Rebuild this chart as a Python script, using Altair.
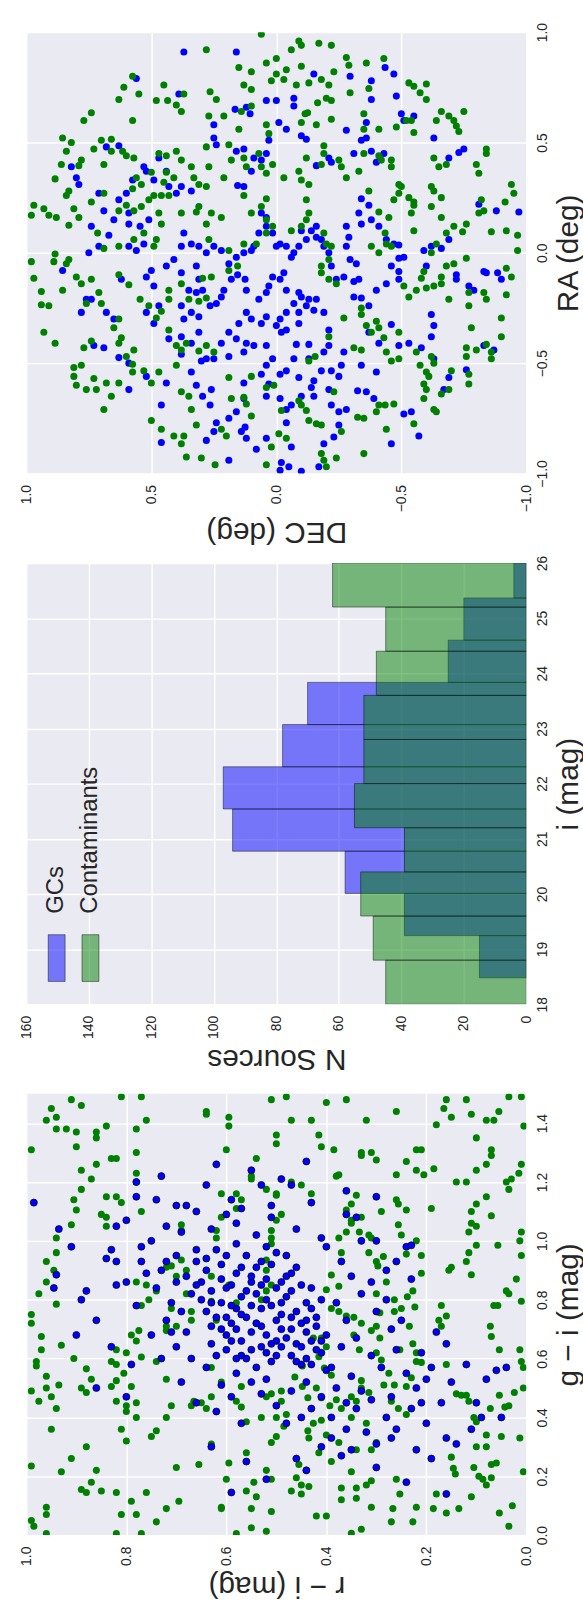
import altair as alt
import pandas as pd

FONT = "Liberation Sans"
BG = "#EAEAF2"
TXT = "#262626"
BLUE = "#0000ff"
GREEN = "#008000"

# ---------------- histogram of i magnitudes ----------------
gc_edges = [18.48, 19.245, 20.01, 20.775, 21.54, 22.305, 23.07, 23.835, 24.6, 25.365, 26.13]
gc_counts = [15, 39, 58, 94, 97, 78, 70, 25, 20, 4]
ct_edges = [18.0, 18.8, 19.6, 20.4, 21.2, 22.0, 22.8, 23.6, 24.4, 25.2, 26.0]
ct_counts = [45, 49, 53, 39, 55, 52, 52, 48, 45, 62]

# ---------------- sky positions (DEC, RA) ----------------
gc_radec = [
(0.37,0.91),(0.16,0.91),(-0.15,0.81),(-0.435,0.84),(-0.47,0.81),(-0.38,0.78),(-0.295,0.80),(0.39,0.72),(0.56,0.79),
(0.04,0.69),(0.0,0.69),(-0.07,0.70),(-0.07,0.665),(0.12,0.66),(0.165,0.65),(0.105,0.63),(-0.01,0.59),(-0.48,0.71),
(-0.50,0.63),(-0.55,0.62),(-0.51,0.60),(-0.38,0.695),(-0.28,0.555),(-0.36,0.59),(-0.63,0.52),(-0.73,0.455),(-0.75,0.47),
(-0.69,0.43),(-0.43,0.45),(-0.40,0.41),(-0.38,0.46),(-0.36,0.52),(-0.34,0.51),(-0.31,0.45),(-0.21,0.43),(-0.22,0.41),
(-0.16,0.395),(-0.12,0.515),(-0.10,0.53),(-0.04,0.56),(0.03,0.51),(0.04,0.45),(0.06,0.42),(0.09,0.43),(0.10,0.37),
(0.13,0.30),(0.155,0.305),(0.13,0.47),(0.16,0.46),(0.25,0.58),(0.25,0.52),(0.24,0.49),(0.38,0.30),(0.43,0.30),(0.40,0.27),
(0.34,0.28),(0.44,0.37),(0.47,0.43),(0.52,0.37),(0.63,0.485),(0.68,0.48),(0.80,0.34),(0.79,0.31),(0.82,0.39),(0.71,0.27),
(0.74,0.12),(0.67,0.08),(0.62,-0.12),(0.855,-0.08),(0.76,-0.21),(0.73,-0.42),(0.69,-0.43),(0.63,-0.475),(0.59,-0.62),
(0.46,-0.69),(0.46,-0.86),(0.38,-0.46),(0.30,-0.49),(0.26,-0.62),(0.24,-0.77),(0.28,-0.85),(0.14,-0.81),(0.125,-0.79),
(0.19,-0.94),(0.13,-0.66),(0.13,-0.59),(0.08,-0.89),(-0.015,-0.985),(-0.02,-0.95),(-0.05,-0.97),(-0.10,-0.99),(-0.17,-0.97),
(-0.19,-0.865),(-0.23,-0.835),(-0.25,-0.78),(-0.325,-0.625),(-0.36,-0.63),(-0.34,-0.51),(-0.27,-0.45),(-0.26,-0.51),
(-0.25,-0.56),(-0.22,-0.535),(-0.18,-0.535),(-0.15,-0.58),(-0.14,-0.61),(-0.09,-0.565),(-0.04,-0.535),(-0.015,-0.55),
(0.04,-0.51),(0.06,-0.55),(0.03,-0.595),(-0.04,-0.71),(-0.04,-0.77),(-0.06,-0.88),(-0.25,-0.72),(-0.39,-0.66),(-0.46,-0.865),
(-0.51,-0.73),(-0.57,-0.83),(-0.67,-0.62),(-0.69,-0.565),(-0.63,-0.48),(-0.62,-0.38),(-0.62,-0.28),(-0.63,-0.33),(-0.58,-0.43),
(-0.53,-0.41),(-0.49,-0.42),(-0.54,-0.72),(-0.76,-0.53),(-0.83,-0.42),(-0.87,-0.44),(-0.97,0.185),(-0.88,0.19),(-0.81,0.22),
(-0.83,-0.085),(-0.77,-0.15),(-0.79,-0.17),(-0.72,-0.12),(-0.72,-0.10),(-0.84,-0.09),(-0.885,-0.09),(-0.90,-0.12),(-0.60,-0.06),
(-0.59,0.01),(-0.62,0.03),(-0.69,0.06),(-0.66,0.02),(-0.49,-0.025),(-0.51,-0.02),(-0.49,0.035),(-0.47,0.04),(-0.44,0.06),
(-0.41,0.12),(-0.38,0.15),(-0.37,0.215),(-0.34,0.245),(-0.34,0.13),(-0.33,0.18),(-0.29,0.07),(-0.28,0.12),(-0.28,0.03),
(-0.295,-0.03),(-0.32,-0.05),(-0.33,-0.12),(-0.31,-0.13),(-0.34,-0.205),(-0.37,-0.24),(-0.40,-0.17),(-0.44,-0.14),(-0.46,-0.06),
(-0.49,-0.085),(-0.49,-0.12),(-0.46,-0.325),(-0.41,-0.41),(-0.40,-0.54),(-0.37,-0.36),(-0.31,-0.20),(-0.27,-0.11),(-0.24,-0.12),
(-0.22,-0.06),(-0.21,0.0),(-0.19,0.03),(-0.18,0.06),(-0.16,0.07),(-0.16,0.12),(-0.14,0.10),(-0.12,0.06),(-0.10,0.10),
(-0.09,0.03),(-0.07,0.0),(-0.06,-0.02),(-0.04,0.03),(-0.015,0.04),(0.0,0.03),(0.015,0.09),(0.04,0.12),(0.04,0.16),
(0.06,0.18),(0.07,0.09),(0.09,0.03),(0.10,0.01),(0.13,0.0),(0.16,-0.02),(0.19,-0.05),(0.22,0.01),(0.25,0.03),(0.28,0.0),
(0.31,0.03),(0.34,0.04),(0.37,0.09),(0.38,0.03),(0.41,-0.03),(0.38,-0.09),(0.32,-0.06),(0.31,-0.12),(0.295,-0.17),(0.32,-0.18),
(0.35,-0.17),(0.38,-0.24),(0.37,-0.30),(0.34,-0.27),(0.31,-0.29),(0.265,-0.24),(0.24,-0.23),(0.22,-0.20),(0.21,-0.17),
(0.18,-0.12),(0.155,-0.10),(0.125,-0.12),(0.12,-0.17),(0.07,-0.21),(0.04,-0.18),(0.03,-0.15),(0.015,-0.11),(-0.015,-0.12),
(-0.03,-0.09),(-0.04,-0.17),(-0.09,-0.18),(-0.07,-0.23),(-0.10,-0.20),(-0.13,-0.21),(-0.16,-0.21),(-0.15,-0.26),(-0.09,-0.27),
(-0.04,-0.27),(-0.015,-0.30),(0.0,-0.33),(-0.04,-0.35),(-0.09,-0.32),(-0.12,-0.24),(-0.19,-0.27),(-0.21,-0.35),(-0.21,-0.42),
(-0.13,-0.415),(-0.08,-0.415),(-0.02,-0.36),(0.04,-0.29),(0.06,-0.32),(0.10,-0.30),(0.12,-0.27),(0.15,-0.32),(0.19,-0.36),
(0.22,-0.41),(0.16,-0.39),(0.12,-0.41),(0.09,-0.42),(0.04,-0.42),(0.13,-0.45),(0.19,-0.47),(0.25,-0.48),(0.28,-0.48),
(0.31,-0.36),(0.34,-0.41),(0.38,-0.38),(0.43,-0.39),(0.49,-0.32),(0.52,-0.27),(0.47,-0.24),(0.49,-0.15),(0.52,-0.11),
(0.50,-0.08),(0.44,-0.06),(0.56,0.01),(0.59,0.03),(0.53,0.04),(0.51,0.15),(0.545,0.12),(0.59,0.18),(0.63,0.24),(0.60,0.27),
(0.575,0.33),(0.53,0.39),(0.49,0.33),(0.59,0.13),(0.65,0.15),(0.69,0.19),(0.71,0.03),(0.75,0.0),(0.74,-0.21),(0.78,-0.27),
(0.68,-0.27),(0.65,-0.30),(0.59,-0.50),(0.52,-0.56),(0.44,-0.59),(0.32,-0.60),(0.295,-0.65),(0.265,-0.69),(0.19,-0.75),
(0.16,-0.72),(0.12,-0.84),(0.04,-0.84),(0.25,-0.81),(0.34,-0.54),(0.04,-0.65),(-0.015,-0.66),(-0.06,-0.69),(-0.10,-0.65),
(-0.15,-0.65),(-0.21,-0.62),(-0.22,-0.69),(-0.28,-0.71),(-0.19,-0.45),(-0.13,-0.48),(-0.07,-0.48),(0.015,-0.48)]

ct_radec = [
(0.06,0.99),(0.28,0.92),(0.15,0.84),(0.04,0.86),(0.0,0.88),(-0.09,0.96),(-0.06,0.92),(-0.10,0.94),(-0.17,0.95),(-0.22,0.94),
(0.10,0.82),(-0.28,0.885),(-0.29,0.85),(-0.36,0.86),(-0.43,0.88),(-0.10,0.845),(-0.04,0.83),(0.0,0.81),(0.02,0.78),(-0.03,0.785),
(-0.08,0.76),(-0.13,0.77),(-0.18,0.785),(-0.21,0.76),(-0.23,0.82),(-0.37,0.745),(-0.295,0.725),(-0.53,0.77),(-0.55,0.755),
(-0.60,0.765),(-0.575,0.725),(-0.60,0.695),(0.13,0.76),(0.10,0.74),(0.265,0.73),(0.24,0.695),(0.37,0.72),(0.45,0.76),(0.48,0.69),
(0.435,0.69),(0.40,0.67),(0.575,0.80),(0.61,0.75),(0.55,0.72),(0.63,0.695),(0.74,0.635),(0.77,0.60),(-0.165,0.68),(-0.20,0.70),
(-0.22,0.69),(-0.52,0.60),(0.575,0.60),(0.38,0.64),(0.27,0.62),(0.21,0.62),(0.14,0.64),(0.10,0.665),(0.03,0.54),(0.04,0.58),
(-0.115,0.63),(-0.125,0.635),(-0.10,0.59),(-0.16,0.58),(-0.22,0.605),(-0.35,0.63),(-0.35,0.56),(-0.41,0.56),(-0.48,0.57),
(-0.54,0.60),(-0.66,0.64),(-0.69,0.62),(-0.71,0.60),(-0.75,0.64),(-0.72,0.575),(-0.73,0.55),(-0.64,0.60),(-0.55,0.545),
(0.855,0.52),(0.82,0.50),(0.84,0.46),(0.78,0.42),(0.79,0.395),(0.73,0.47),(0.70,0.51),(0.66,0.515),(0.69,0.40),(0.66,0.46),
(0.615,0.46),(0.60,0.44),(0.57,0.43),(0.56,0.34),(0.54,0.31),(0.50,0.365),(0.49,0.26),(0.47,0.45),(0.44,0.44),(0.40,0.46),
(0.38,0.42),(0.34,0.39),(0.41,0.34),(0.44,0.365),(0.45,0.32),(0.46,0.26),(0.43,0.26),(0.51,0.24),(0.54,0.21),(0.57,0.19),
(0.60,0.215),(0.63,0.19),(0.575,0.29),(0.74,0.23),(0.69,0.27),(0.79,0.16),(0.83,0.125),(0.88,0.16),(0.885,0.335),(0.84,0.26),
(0.81,0.20),(0.91,0.17),(0.93,0.20),(0.97,0.215),(0.98,0.17),(0.83,0.28),(0.86,0.40),(0.28,0.48),(0.33,0.34),(0.31,0.31),
(0.27,0.39),(0.28,0.30),(0.21,0.34),(0.18,0.42),(0.13,0.43),(0.12,0.39),(0.07,0.45),(0.06,0.39),(0.19,0.49),(0.15,0.56),
(0.04,0.36),(0.015,0.40),(-0.03,0.34),(-0.09,0.37),(-0.12,0.43),(-0.10,0.33),(-0.13,0.31),(-0.18,0.40),(-0.19,0.45),(-0.19,0.485),
(-0.25,0.42),(-0.26,0.39),(-0.28,0.34),(-0.41,0.44),(-0.42,0.42),(-0.46,0.42),(-0.46,0.39),(-0.49,0.31),(-0.50,0.30),(-0.49,0.27),
(-0.53,0.25),(-0.55,0.23),(-0.35,0.45),(-0.33,0.37),(-0.37,0.28),(-0.63,0.43),(-0.68,0.40),(-0.65,0.39),(-0.80,0.40),(-0.81,0.36),
(-0.84,0.47),(-0.84,0.45),(-0.62,0.30),(-0.63,0.28),(-0.66,0.25),(-0.62,0.21),(-0.47,0.24),(-0.54,0.18),(-0.55,0.215),(-0.45,0.16),
(-0.41,0.185),(-0.38,0.03),(-0.41,0.0),(-0.435,0.09),(-0.44,0.04),(-0.46,0.03),(-0.55,0.10),(-0.66,0.16),(-0.71,0.12),(-0.745,0.095),
(-0.81,0.18),(-0.83,0.19),(-0.82,0.24),(-0.915,0.23),(-0.95,0.27),(-0.94,0.31),(-0.92,0.10),(-0.965,0.08),(-0.965,0.01),(-0.86,0.095),
(-0.76,0.13),(-0.68,0.09),(-0.64,0.04),(-0.62,0.0),(-0.68,-0.06),(-0.71,-0.05),(-0.76,-0.025),(0.38,0.18),(0.32,0.185),(0.31,0.21),
(0.26,0.18),(0.22,0.16),(0.13,0.26),(0.10,0.18),(0.06,0.21),(0.04,0.15),(0.04,0.245),(0.015,0.12),(0.04,0.09),(-0.06,0.10),
(-0.10,0.12),(-0.12,0.15),(-0.13,0.18),(-0.12,0.24),(-0.19,0.09),(-0.20,0.04),(-0.22,0.03),(-0.21,-0.03),(-0.18,-0.06),(-0.18,-0.09),
(-0.21,-0.12),(-0.24,-0.14),(0.28,0.13),(0.27,0.06),(0.19,0.01),(0.13,0.04),(0.08,0.04),(0.155,-0.06),(0.19,-0.08),(0.26,-0.11),
(0.295,-0.115),(0.28,-0.205),(0.31,-0.22),(0.35,-0.21),(0.38,-0.14),(0.48,0.06),(0.49,0.03),(0.46,0.13),(0.47,0.18),(0.53,0.09),
(0.57,0.06),(0.63,0.03),(0.69,0.02),(0.715,0.09),(0.83,-0.03),(0.84,-0.05),(0.80,-0.11),(0.885,-0.005),(0.98,-0.04),(0.89,-0.04),
(0.94,-0.235),(0.91,-0.24),(0.94,-0.175),(0.97,-0.115),(0.855,-0.17),(0.78,-0.14),(0.74,-0.12),(0.71,-0.18),(0.70,-0.23),(0.76,-0.23),
(0.63,-0.10),(0.59,-0.145),(0.545,-0.21),(0.51,-0.24),(0.43,-0.17),(0.43,-0.21),(0.48,-0.295),(0.46,-0.265),(0.43,-0.35),(0.40,-0.42),
(0.38,-0.44),(0.40,-0.51),(0.63,-0.30),(0.65,-0.34),(0.62,-0.385),(0.63,-0.41),(0.60,-0.47),(0.57,-0.44),(0.575,-0.505),(0.53,-0.535),
(0.47,-0.54),(0.50,-0.59),(0.575,-0.54),(0.63,-0.59),(0.68,-0.59),(0.73,-0.57),(0.72,-0.62),(0.76,-0.62),(0.81,-0.52),(0.81,-0.56),
(0.80,-0.60),(0.78,-0.51),(0.66,-0.65),(0.69,-0.71),(0.885,-0.41),(0.93,-0.36),(0.77,-0.43),(0.74,-0.40),(0.36,-0.41),(0.31,-0.445),
(0.28,-0.42),(0.25,-0.45),(0.38,-0.63),(0.35,-0.65),(0.34,-0.71),(0.32,-0.78),(0.37,-0.83),(0.38,-0.865),(0.46,-0.80),(0.50,-0.76),
(0.41,-0.83),(0.36,-0.925),(0.30,-0.93),(0.245,-0.96),(0.22,-0.80),(0.20,-0.83),(0.19,-0.565),(0.18,-0.66),(0.12,-0.685),(0.10,-0.74),
(0.10,-0.56),(0.13,-0.655),(0.04,-0.61),(0.01,-0.60),(0.04,-0.96),(0.02,-0.88),(-0.01,-0.82),(-0.04,-0.84),(-0.02,-0.715),(-0.09,-0.67),
(-0.10,-0.69),(-0.12,-0.715),(-0.13,-0.76),(-0.16,-0.775),(-0.18,-0.78),(-0.18,-0.91),(-0.19,-0.94),(-0.24,-0.93),(-0.20,-0.97),
(-0.26,-0.81),(-0.325,-0.745),(-0.35,-0.75),(-0.35,-0.91),(-0.40,-0.72),(-0.41,-0.69),(-0.435,-0.69),(-0.44,-0.80),(-0.47,-0.685),
(-0.55,-0.775),(-0.13,-0.49),(-0.155,-0.47),(-0.21,-0.38),(-0.23,-0.63),(-0.27,-0.295),(-0.31,-0.43),(-0.34,-0.44),(-0.36,-0.33),
(-0.38,-0.36),(-0.40,-0.31),(-0.41,-0.34),(-0.43,-0.385),(-0.44,-0.45),(-0.49,-0.48),(-0.46,-0.49),(-0.49,-0.36),(-0.34,-0.28),
(-0.34,-0.25),(-0.56,-0.45),(-0.575,-0.51),(-0.60,-0.54),(-0.59,-0.595),(-0.59,-0.66),(-0.61,-0.56),(-0.60,-0.62),(-0.63,-0.71),
(-0.64,-0.72),(-0.66,-0.64),(-0.69,-0.62),(-0.70,-0.535),(-0.76,-0.47),(-0.77,-0.55),(-0.77,-0.595),(-0.78,-0.34),(-0.76,-0.43),
(-0.80,-0.44),(-0.84,-0.415),(-0.86,-0.48),(-0.86,-0.45),(-0.90,-0.38),(-0.90,-0.295),(-0.84,-0.21),(-0.77,-0.18),(-0.77,-0.24),
(-0.83,-0.18),(-0.92,-0.19),(-0.94,-0.11),(-0.92,-0.07),(-0.51,-0.15),(-0.53,-0.20),(-0.56,-0.17),(-0.58,-0.115),(-0.59,-0.085),
(-0.63,-0.15),(-0.66,-0.14),(-0.60,-0.16),(-0.69,-0.21),(-0.66,-0.11),(-0.62,-0.47),(-0.63,-0.50)]

# ---------------- colours (r-i, g-i) ----------------
gc_colors = [
(0.52,0.80),(0.47,0.74),(0.55,0.86),(0.61,0.92),(0.44,0.69),(0.58,0.77),(0.50,0.66),(0.63,0.83),(0.41,0.62),(0.56,0.95),
(0.48,0.88),(0.53,0.71),(0.45,0.58),(0.60,0.68),(0.66,0.97),(0.49,0.79),(0.57,0.61),(0.43,0.77),(0.62,0.74),(0.51,0.92),
(0.46,0.65),(0.54,0.57),(0.59,0.85),(0.64,0.90),(0.42,0.71),(0.50,0.73),(0.55,0.69),(0.47,0.83),(0.61,0.79),(0.53,0.64),
(0.40,0.56),(0.65,0.86),(0.58,0.99),(0.44,0.60),(0.52,0.87),(0.49,0.70),(0.57,0.81),(0.46,0.76),(0.60,0.63),(0.54,0.91),
(0.43,0.66),(0.63,0.71),(0.51,0.59),(0.48,0.95),(0.56,0.74),(0.67,0.82),(0.45,0.85),(0.59,0.72),(0.52,0.68),(0.41,0.80),
(0.62,0.97),(0.55,0.63),(0.50,0.84),(0.47,0.61),(0.58,0.89),(0.44,0.73),(0.53,0.77),(0.64,0.76),(0.49,0.64),(0.60,0.84),
(0.46,0.91),(0.57,0.66),(0.42,0.63),(0.66,0.93),(0.51,0.78),(0.54,0.82),(0.48,0.67),(0.61,0.87),(0.45,0.72),(0.56,0.60),
(0.63,0.65),(0.50,0.96),(0.43,0.84),(0.59,0.78),(0.52,0.62),(0.47,0.70),(0.55,0.88),(0.65,0.80),(0.40,0.68),(0.58,0.70),
(0.62,0.61),(0.49,0.86),(0.53,0.93),(0.44,0.79),(0.57,0.75),(0.51,0.65),(0.46,0.59),(0.60,0.95),(0.68,0.88),(0.54,0.72),
(0.42,0.74),(0.48,0.81),(0.63,0.79),(0.56,0.83),(0.50,0.61),(0.45,0.64),(0.59,0.66),(0.52,0.98),(0.61,0.70),(0.47,0.89),
(0.55,0.78),(0.64,0.94),(0.43,0.58),(0.58,0.60),(0.49,0.75),(0.66,0.85),(0.53,0.85),(0.41,0.66),(0.57,0.91),(0.60,0.74),
(0.72,1.05),(0.68,1.12),(0.75,1.00),(0.70,0.95),(0.78,1.15),(0.74,1.14),(0.70,1.12),(0.66,1.10),(0.59,1.14),(0.57,1.11),
(0.60,1.09),(0.51,1.12),(0.51,1.08),(0.73,1.22),(0.78,1.20),(0.49,1.21),(0.47,1.19),(0.64,1.19),(0.43,1.13),(0.53,1.19),
(0.80,1.07),(0.82,1.05),(0.77,0.98),(0.72,0.93),(0.69,1.03),(0.63,1.04),(0.58,1.06),(0.54,1.02),(0.46,1.04),(0.41,1.01),
(0.36,1.09),(0.34,1.08),(0.40,0.98),(0.33,1.00),(0.30,1.00),(0.24,0.98),(0.23,0.985),(0.37,0.93),(0.35,0.88),(0.31,0.86),
(0.33,0.82),(0.28,0.90),(0.38,0.79),(0.36,0.73),(0.30,0.76),(0.27,0.70),(0.34,0.67),(0.31,0.61),(0.37,0.64),(0.39,0.57),
(0.35,0.54),(0.29,0.57),(0.26,0.63),(0.24,0.55),(0.33,0.49),(0.38,0.50),(0.36,0.45),(0.41,0.47),(0.44,0.52),(0.47,0.49),
(0.43,0.43),(0.39,0.40),(0.34,0.43),(0.31,0.46),(0.28,0.40),(0.27,0.47),(0.22,0.50),(0.20,0.53),(0.19,0.57),(0.23,0.43),
(0.21,0.45),(0.26,0.36),(0.32,0.35),(0.30,0.31),(0.36,0.36),(0.39,0.33),(0.35,0.29),(0.45,0.40),(0.50,0.44),(0.48,0.38),
(0.53,0.48),(0.55,0.52),(0.52,0.53),(0.58,0.55),(0.61,0.51),(0.64,0.57),(0.67,0.60),(0.70,0.64),(0.68,0.69),(0.72,0.73),
(0.71,0.79),(0.74,0.84),(0.76,0.89),(0.69,0.76),(0.75,0.68),(0.78,0.78),(0.80,0.86),(0.82,0.93),(0.83,0.97),(0.77,0.93),
(0.73,0.90),(0.70,0.86),(0.71,0.69),(0.985,1.13),(0.935,1.04),(0.91,0.98),(0.94,0.885),(0.945,0.84),(0.88,0.83),(0.89,0.80),
(0.84,0.94),(0.82,0.85),(0.86,0.73),(0.90,0.68),(0.83,0.64),(0.79,0.58),(0.86,0.50),(0.80,0.47),(0.73,0.60),(0.69,0.52),
(0.66,0.45),(0.62,0.42),(0.59,0.47),(0.57,0.38),(0.63,0.30),(0.56,0.25),(0.59,0.145),(0.52,0.19),(0.46,0.26),(0.44,0.22),
(0.41,0.30),(0.37,0.27),(0.30,0.23),(0.27,0.33),(0.22,0.29),(0.20,0.38),(0.17,0.45),(0.15,0.52),(0.12,0.58),(0.10,0.45),
(0.09,0.40),(0.11,0.36),(0.16,0.33),(0.19,0.26),(0.14,0.31),(0.21,0.62),(0.25,0.73),(0.28,0.80),(0.16,0.65),(0.18,0.69),
(0.23,0.87),(0.26,0.93),(0.44,1.27),(0.55,1.24),(0.62,1.26),(0.36,1.17),(0.30,1.15),(0.16,0.14),(0.24,0.18),(0.08,0.53),
(0.06,0.56),(0.04,0.57),(0.05,0.40)]

ct_colors = [
(0.91,1.48),(0.89,1.46),(0.95,1.45),(0.96,1.41),(0.94,1.42),(0.99,1.31),(0.94,1.38),(0.92,1.38),(0.90,1.37),(0.90,1.32),
(0.89,1.24),(0.86,1.37),(0.86,1.35),(0.84,1.39),(0.86,1.26),(0.87,1.21),(0.83,1.28),(0.82,1.28),(0.81,1.49),(0.77,1.49),
(0.78,1.38),(0.76,1.41),(0.78,1.30),(0.78,1.23),(0.78,1.20),(0.77,1.10),(0.82,1.15),(0.81,1.13),(0.84,1.15),(0.84,1.08),
(0.84,1.05),(0.85,1.09),(0.89,1.175),(0.905,1.14),(0.90,1.105),(0.91,1.055),(0.94,1.01),(0.94,0.96),(0.96,0.93),(0.945,0.90),
(0.96,0.86),(0.94,0.785),(0.975,0.82),(0.99,0.75),(0.99,0.72),(0.99,0.49),(0.99,0.235),(0.97,0.675),(0.97,0.63),(0.93,0.645),
(0.905,0.60),(0.89,0.50),(0.88,0.485),(0.88,0.565),(0.87,0.53),(0.98,0.59),(0.98,0.575),(0.96,0.54),(0.96,0.50),(0.935,0.51),
(0.95,0.47),(0.94,0.43),(0.975,0.455),(0.95,0.36),(0.93,0.215),(0.89,0.155),(0.88,0.145),(0.85,0.15),(0.86,0.22),(0.87,0.18),
(0.88,0.30),(0.96,0.095),(0.96,0.07),(0.99,0.05),(0.985,0.03),(0.96,0.005),(0.91,0.26),(0.82,0.145),(0.81,0.07),(0.82,0.005),
(0.79,0.115),(0.78,0.07),(0.77,0.005),(0.76,0.145),(0.74,0.045),(0.72,0.09),(0.75,0.335),(0.74,0.355),(0.72,0.40),(0.72,0.53),
(0.70,0.23),(0.695,0.115),(0.71,0.44),(0.78,0.45),(0.78,0.40),(0.80,0.42),(0.80,0.44),(0.80,0.32),(0.81,0.36),(0.82,0.455),
(0.83,0.505),(0.82,0.525),(0.79,0.505),(0.805,0.55),(0.82,0.58),(0.82,0.63),(0.83,0.59),(0.80,0.62),(0.79,0.68),(0.78,0.66),
(0.775,0.695),(0.77,0.605),(0.78,0.86),(0.76,0.85),(0.77,0.78),(0.755,0.80),(0.74,0.83),(0.74,0.59),(0.72,0.71),(0.72,0.695),
(0.71,0.77),(0.70,0.71),(0.72,0.91),(0.71,0.915),(0.69,0.935),(0.69,1.035),(0.69,1.055),(0.70,0.88),(0.68,0.90),(0.68,0.82),
(0.67,0.76),(0.67,0.73),(0.67,0.44),(0.665,0.455),(0.655,0.24),(0.65,0.45),(0.64,0.43),(0.63,0.31),(0.63,0.47),(0.63,0.57),
(0.61,0.52),(0.62,0.73),(0.63,0.795),(0.63,0.88),(0.62,1.035),(0.62,1.01),(0.61,1.08),(0.61,1.16),(0.64,1.43),(0.64,1.44),
(0.595,1.42),(0.60,1.31),(0.595,1.39),(0.58,1.16),(0.58,1.11),(0.57,1.14),(0.595,0.85),(0.58,0.79),(0.58,0.455),(0.57,0.435),
(0.57,0.505),(0.56,0.385),(0.56,0.15),(0.595,0.245),(0.60,0.19),(0.61,0.095),(0.61,0.09),(0.58,0.005),(0.56,0.28),(0.545,0.18),
(0.54,0.13),(0.55,0.09),(0.55,0.025),(0.52,0.013),(0.51,0.08),(0.51,0.19),(0.52,0.22),(0.51,0.315),(0.50,0.335),(0.485,0.37),
(0.48,0.41),(0.50,0.40),(0.49,0.455),(0.49,0.49),(0.51,0.48),(0.52,0.47),(0.53,0.40),(0.54,0.72),(0.53,0.80),(0.52,0.83),
(0.51,0.85),(0.52,0.90),(0.52,0.935),(0.51,1.01),(0.51,0.99),(0.50,1.07),(0.49,1.09),(0.50,1.16),(0.50,1.155),(0.52,1.175),
(0.51,1.035),(0.50,1.36),(0.50,1.33),(0.54,1.28),(0.55,1.22),(0.55,1.21),(0.51,1.48),(0.48,1.49),(0.47,1.41),(0.43,1.41),
(0.47,1.20),(0.45,1.19),(0.43,1.16),(0.415,1.36),(0.41,1.32),(0.40,1.47),(0.385,1.31),(0.375,1.225),(0.38,1.22),(0.36,1.48),
(0.36,1.105),(0.36,1.03),(0.34,1.155),(0.33,1.30),(0.33,1.29),(0.32,1.41),(0.31,1.30),(0.30,1.275),(0.26,1.225),(0.29,1.10),
(0.26,1.44),(0.26,1.14),(0.24,1.27),(0.24,1.105),(0.22,1.24),(0.22,1.31),(0.21,1.31),(0.205,1.225),(0.18,1.395),(0.19,1.11),
(0.185,1.245),(0.165,1.45),(0.16,1.48),(0.12,1.48),(0.11,1.43),(0.12,1.20),(0.14,1.20),(0.15,1.42),(0.10,1.35),(0.08,1.41),
(0.065,1.41),(0.055,1.44),(0.035,1.49),(0.01,1.49),(0.005,1.39),(0.01,1.26),(0.015,1.23),(0.03,1.21),(0.04,1.20),(0.07,1.31),
(0.07,1.29),(0.10,1.24),(0.08,1.26),(0.035,1.175),(0.10,1.125),(0.11,1.10),(0.11,1.06),(0.115,1.03),(0.10,0.985),(0.115,0.96),
(0.12,0.93),(0.11,0.885),(0.15,0.91),(0.155,0.90),(0.17,0.78),(0.16,0.745),(0.175,0.73),(0.17,0.71),(0.16,0.58),(0.14,0.48),
(0.13,0.475),(0.12,0.475),(0.115,0.455),(0.105,0.40),(0.10,0.30),(0.105,0.23),(0.095,0.20),(0.087,0.19),(0.08,0.34),(0.07,0.24),
(0.06,0.245),(0.05,0.335),(0.043,0.435),(0.035,0.44),(0.024,0.485),(0.006,0.50),(0.006,0.57),(0.01,0.59),(0.013,0.63),(0.054,0.63),
(0.07,0.675),(0.072,0.71),(0.065,0.78),(0.057,0.78),(0.035,0.82),(0.04,0.83),(0.01,0.795),(0.01,0.95),(0.01,1.03),(0.013,1.0),
(0.02,0.87),(0.057,0.985),(0.07,1.085),(0.08,1.15),(0.10,1.05),(0.054,0.475),(0.072,0.43),(0.10,0.385),(0.08,0.30),(0.035,0.03),
(0.028,0.10),(0.054,0.075),(0.013,0.33),(0.006,0.215),(0.11,0.13),(0.08,0.17),(0.07,0.195),(0.15,0.265),(0.146,0.227),(0.142,0.208),
(0.135,0.09),(0.16,0.075),(0.18,0.14),(0.186,0.09),(0.22,0.095),(0.227,0.045),(0.253,0.14),(0.26,0.19),(0.267,0.09),(0.27,0.045),
(0.31,0.095),(0.33,0.02),(0.35,0.006),(0.37,0.16),(0.37,0.12),(0.34,0.125),(0.34,0.16),(0.32,0.17),(0.31,0.185),(0.40,0.065),
(0.42,0.065),(0.435,0.165),(0.45,0.14),(0.45,0.17),(0.46,0.195),(0.47,0.15),(0.455,0.24),(0.44,0.22),(0.435,0.33),(0.437,0.355),
(0.415,0.28),(0.40,0.34),(0.39,0.25),(0.375,0.315),(0.35,0.215),(0.34,0.29),(0.31,0.29),(0.30,0.315),(0.32,0.38),(0.35,0.40),
(0.37,0.43),(0.38,0.46),(0.35,0.47),(0.34,0.455),(0.33,0.50),(0.33,0.525),(0.315,0.485),(0.30,0.62),(0.29,0.595),(0.285,0.51),
(0.275,0.55),(0.264,0.51),(0.256,0.43),(0.27,0.455),(0.24,0.41),(0.24,0.505),(0.23,0.535),(0.22,0.59),(0.21,0.587),(0.22,0.62),
(0.227,0.65),(0.234,0.71),(0.223,0.775),(0.238,0.81),(0.227,0.83),(0.21,0.89),(0.21,0.95),(0.22,1.0),(0.24,0.955),(0.25,1.02),
(0.256,1.055),(0.256,1.125),(0.286,0.947),(0.297,0.915),(0.30,0.93),(0.31,1.01),(0.315,0.96),(0.315,1.02),(0.334,1.03),(0.35,1.07),
(0.35,1.06),(0.35,1.125),(0.33,1.08),(0.375,1.01),(0.37,0.96),(0.375,0.846),(0.39,0.884),(0.40,0.834),(0.39,0.77),(0.375,0.76),
(0.36,0.745),(0.345,0.74),(0.33,0.72),(0.31,0.695),(0.30,0.71),(0.30,0.82),(0.28,0.86),(0.293,0.756),(0.264,0.80),(0.264,0.76),
(0.25,0.77),(0.253,0.63),(0.293,0.67),(0.334,0.63),(0.345,0.68),(0.40,0.64),(0.41,0.67),(0.426,0.67),(0.415,0.606),(0.404,0.568),
(0.39,0.543),(0.448,0.575),(0.463,0.537),(0.448,0.505),(0.437,0.467),(0.42,0.50),(0.41,0.467),(0.393,0.44),(0.41,0.39),(0.426,0.38)]

# ---------------- data frames ----------------
hist_gc = pd.DataFrame({"lo": gc_edges[:-1], "hi": gc_edges[1:], "n": gc_counts, "zero": 0})
hist_ct = pd.DataFrame({"lo": ct_edges[:-1], "hi": ct_edges[1:], "n": ct_counts, "zero": 0})
sky_gc = pd.DataFrame(gc_radec, columns=["dec", "ra"])
sky_ct = pd.DataFrame(ct_radec, columns=["dec", "ra"])
col_gc = pd.DataFrame(gc_colors, columns=["ri", "gi"])
col_ct = pd.DataFrame(ct_colors, columns=["ri", "gi"])

W, H = 503, 444
PT = 50


def bottom_axis(title, values, fmt):
    return alt.Axis(
        orient="bottom", title=title, values=values, format=fmt,
        labelAngle=270, labelAlign="right", labelBaseline="middle", labelPadding=11,
        labelFont=FONT, labelFontSize=14, labelColor=TXT, labelFlush=False, labelOverlap=False,
        titleAngle=180, titleBaseline="bottom", titleAlign="center", titlePadding=5,
        titleFont=FONT, titleFontSize=30, titleFontWeight="normal", titleColor=TXT,
        grid=True, gridColor="white", gridWidth=1.4, domain=False, ticks=False, tickSize=0)


def right_axis(title, values, fmt):
    return alt.Axis(
        orient="right", title=title, values=values, format=fmt,
        labelAngle=270, labelAlign="center", labelBaseline="top", labelPadding=9,
        labelFont=FONT, labelFontSize=14, labelColor=TXT, labelFlush=False, labelOverlap=False,
        titleAngle=270, titleBaseline="top", titleAlign="center", titlePadding=4,
        titleFont=FONT, titleFontSize=30, titleFontWeight="normal", titleColor=TXT,
        grid=True, gridColor="white", gridWidth=1.4, domain=False, ticks=False, tickSize=0)


# ---------------- top panel: sky positions ----------------
sky_x = alt.X("dec:Q", scale=alt.Scale(domain=[-1, 1], reverse=True, nice=False, zero=False),
              axis=bottom_axis("DEC (deg)", [-1, -0.5, 0, 0.5, 1], ".1f"))
sky_y = alt.Y("ra:Q", scale=alt.Scale(domain=[-1, 1], nice=False, zero=False),
              axis=right_axis("RA (deg)", [-1, -0.5, 0, 0.5, 1], ".1f"))

sky = alt.layer(
    alt.Chart(sky_gc).mark_circle(size=PT, color=BLUE, opacity=1, clip=True).encode(x=sky_x, y=sky_y),
    alt.Chart(sky_ct).mark_circle(size=PT, color=GREEN, opacity=1, clip=True).encode(x=sky_x, y=sky_y),
).properties(width=W, height=H)

# ---------------- middle panel: histogram ----------------
h_x = alt.X("n:Q", scale=alt.Scale(domain=[0, 160], reverse=True, nice=False, zero=False),
            axis=bottom_axis("N Sources", list(range(0, 161, 20)), "d"))
h_y = alt.Y("lo:Q", scale=alt.Scale(domain=[18, 26], nice=False, zero=False),
            axis=right_axis("i (mag)", list(range(18, 27)), "d"))

bars_gc = alt.Chart(hist_gc).mark_bar(
    color=BLUE, fillOpacity=0.5, stroke="black", strokeOpacity=0.45, strokeWidth=1, clip=True
).encode(x=h_x, x2="zero:Q", y=h_y, y2="hi:Q")
bars_ct = alt.Chart(hist_ct).mark_bar(
    color=GREEN, fillOpacity=0.5, stroke="black", strokeOpacity=0.45, strokeWidth=1, clip=True
).encode(x=h_x, x2="zero:Q", y=h_y, y2="hi:Q")

one = alt.Data(values=[{}])
leg_gc = alt.Chart(one).mark_rect(
    color=BLUE, fillOpacity=0.5, stroke="black", strokeOpacity=0.45, strokeWidth=1
).encode(x=alt.value(22), x2=alt.value(39), y=alt.value(374), y2=alt.value(421))
leg_ct = alt.Chart(one).mark_rect(
    color=GREEN, fillOpacity=0.5, stroke="black", strokeOpacity=0.45, strokeWidth=1
).encode(x=alt.value(56), x2=alt.value(73), y=alt.value(374), y2=alt.value(421))
txt_gc = alt.Chart(one).mark_text(
    text="GCs", angle=270, align="left", baseline="middle", font=FONT, fontSize=24, color=TXT
).encode(x=alt.value(30), y=alt.value(353))
txt_ct = alt.Chart(one).mark_text(
    text="Contaminants", angle=270, align="left", baseline="middle", font=FONT, fontSize=24, color=TXT
).encode(x=alt.value(64), y=alt.value(353))

hist = alt.layer(bars_gc, bars_ct, leg_gc, leg_ct, txt_gc, txt_ct).properties(width=W, height=H)

# ---------------- bottom panel: colour-colour ----------------
c_x = alt.X("ri:Q", scale=alt.Scale(domain=[0, 1], reverse=True, nice=False, zero=False),
            axis=bottom_axis("r − i (mag)", [0, 0.2, 0.4, 0.6, 0.8, 1.0], ".1f"))
c_y = alt.Y("gi:Q", scale=alt.Scale(domain=[0, 1.5], nice=False, zero=False),
            axis=right_axis("g − i (mag)", [0, 0.2, 0.4, 0.6, 0.8, 1.0, 1.2, 1.4], ".1f"))

colour = alt.layer(
    alt.Chart(col_ct).mark_circle(size=PT, color=GREEN, opacity=1, clip=True).encode(x=c_x, y=c_y),
    alt.Chart(col_gc).mark_circle(size=PT, color=BLUE, opacity=1, stroke="black", strokeWidth=0.7,
                                  clip=True).encode(x=c_x, y=c_y),
).properties(width=W, height=H)

chart = alt.vconcat(sky, hist, colour, spacing=90, bounds="flush").properties(
    padding={"left": 19.5, "top": 17.5, "right": 0, "bottom": 0},
    background="white",
).configure_view(fill=BG, stroke=None).resolve_scale(x="independent", y="independent")

chart.save("out.html", embed_options={"renderer": "svg", "actions": False})
